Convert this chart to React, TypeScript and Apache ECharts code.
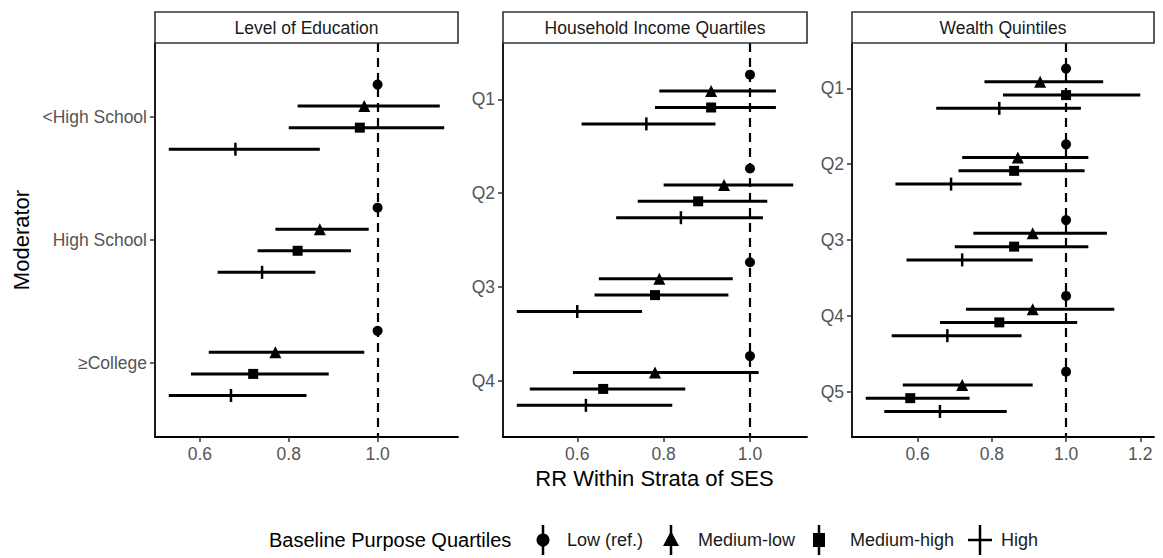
import React, { useEffect, useRef } from 'react';
import * as echarts from 'echarts';

// ---------- data ----------
const groups = ['Low (ref.)', 'Medium-low', 'Medium-high', 'High'];

const educationCats = ['<High School', 'High School', '≥College'];
const eduLow = [1.0, 1.0, 1.0];
const eduMedLow = [0.97, 0.87, 0.77];
const eduMedLowLo = [0.82, 0.77, 0.62];
const eduMedLowHi = [1.14, 0.98, 0.97];
const eduMedHigh = [0.96, 0.82, 0.72];
const eduMedHighLo = [0.80, 0.73, 0.58];
const eduMedHighHi = [1.15, 0.94, 0.89];
const eduHigh = [0.68, 0.74, 0.67];
const eduHighLo = [0.53, 0.64, 0.53];
const eduHighHi = [0.87, 0.86, 0.84];

const incomeCats = ['Q1', 'Q2', 'Q3', 'Q4'];
const incLow = [1.0, 1.0, 1.0, 1.0];
const incMedLow = [0.91, 0.94, 0.79, 0.78];
const incMedLowLo = [0.79, 0.80, 0.65, 0.59];
const incMedLowHi = [1.06, 1.10, 0.96, 1.02];
const incMedHigh = [0.91, 0.88, 0.78, 0.66];
const incMedHighLo = [0.78, 0.74, 0.64, 0.49];
const incMedHighHi = [1.06, 1.04, 0.95, 0.85];
const incHigh = [0.76, 0.84, 0.60, 0.62];
const incHighLo = [0.61, 0.69, 0.46, 0.46];
const incHighHi = [0.92, 1.03, 0.75, 0.82];

const wealthCats = ['Q1', 'Q2', 'Q3', 'Q4', 'Q5'];
const wltLow = [1.0, 1.0, 1.0, 1.0, 1.0];
const wltMedLow = [0.93, 0.87, 0.91, 0.91, 0.72];
const wltMedLowLo = [0.78, 0.72, 0.75, 0.73, 0.56];
const wltMedLowHi = [1.10, 1.06, 1.11, 1.13, 0.91];
const wltMedHigh = [1.00, 0.86, 0.86, 0.82, 0.58];
const wltMedHighLo = [0.83, 0.71, 0.70, 0.66, 0.46];
const wltMedHighHi = [1.20, 1.05, 1.06, 1.03, 0.74];
const wltHigh = [0.82, 0.69, 0.72, 0.68, 0.66];
const wltHighLo = [0.65, 0.54, 0.57, 0.53, 0.51];
const wltHighHi = [1.04, 0.88, 0.91, 0.88, 0.84];

const xTicks12 = [0.6, 0.8, 1.0];
const xTicks3 = [0.6, 0.8, 1.0, 1.2];
const refValue = 1.0;

// ---------- layout ----------
const FONT = '"Liberation Sans", Arial, sans-serif';
const SMALL = 17.5;
const BIG = 22;
const PLOT_TOP = 43;
const PLOT_BOTTOM = 437;
const STRIP_TOP = 12;
const panelBoxes = [
  { left: 155, right: 458 },
  { left: 503, right: 807 },
  { left: 852, right: 1154 },
];
const dodge = [-0.2625, -0.0875, 0.0875, 0.2625];
const symbols: any[] = [
  { symbol: 'circle', size: 10 },
  { symbol: 'triangle', size: 12 },
  { symbol: 'rect', size: 10 },
  { symbol: 'rect', size: [2.5, 13] },
];
// legend layout (icon centre x, label left x)
const LEGEND_Y = 540;
const legendIconX = [543, 671, 819, 980];
const legendTextX = [567, 698, 850, 1001];

const panels = [
  {
    title: 'Level of Education',
    cats: educationCats,
    est: [eduLow, eduMedLow, eduMedHigh, eduHigh],
    lo: [eduLow, eduMedLowLo, eduMedHighLo, eduHighLo],
    hi: [eduLow, eduMedLowHi, eduMedHighHi, eduHighHi],
    ticks: xTicks12,
  },
  {
    title: 'Household Income Quartiles',
    cats: incomeCats,
    est: [incLow, incMedLow, incMedHigh, incHigh],
    lo: [incLow, incMedLowLo, incMedHighLo, incHighLo],
    hi: [incLow, incMedLowHi, incMedHighHi, incHighHi],
    ticks: xTicks12,
  },
  {
    title: 'Wealth Quintiles',
    cats: wealthCats,
    est: [wltLow, wltMedLow, wltMedHigh, wltHigh],
    lo: [wltLow, wltMedLowLo, wltMedHighLo, wltHighLo],
    hi: [wltLow, wltMedLowHi, wltMedHighHi, wltHighHi],
    ticks: xTicks3,
  },
];

function xRange(lo: number[][], hi: number[][]) {
  const mn = Math.min(...lo.flat());
  const mx = Math.max(...hi.flat());
  const e = (mx - mn) * 0.05;
  return [mn - e, mx + e];
}

function textEl(text: string, x: number, y: number, size: number, align: string, fill: string, extra: any = {}) {
  return {
    type: 'text',
    x,
    y,
    ...extra,
    style: {
      text,
      align,
      verticalAlign: 'middle',
      textAlign: align,
      textVerticalAlign: 'middle',
      fontSize: size,
      fontFamily: FONT,
      fill,
    },
  };
}

function legendGraphics() {
  const els: any[] = [];
  els.push(textEl('Baseline Purpose Quartiles', 269, LEGEND_Y, 20, 'left', '#000'));
  const black = { fill: '#000' };
  groups.forEach((g, k) => {
    const cx = legendIconX[k];
    els.push({
      type: 'rect',
      shape: { x: cx - 1.25, y: LEGEND_Y - 15, width: 2.5, height: 30 },
      style: black,
    });
    if (k === 0) {
      els.push({ type: 'circle', shape: { cx, cy: LEGEND_Y, r: 6.5 }, style: black });
    } else if (k === 1) {
      els.push({
        type: 'polygon',
        shape: { points: [[cx, LEGEND_Y - 9], [cx + 8, LEGEND_Y + 6], [cx - 8, LEGEND_Y + 6]] },
        style: black,
      });
    } else if (k === 2) {
      els.push({ type: 'rect', shape: { x: cx - 6, y: LEGEND_Y - 7, width: 12, height: 14 }, style: black });
    } else {
      els.push({ type: 'rect', shape: { x: cx - 12, y: LEGEND_Y - 1.25, width: 24, height: 2.5 }, style: black });
    }
    els.push(textEl(g, legendTextX[k], LEGEND_Y, 18, 'left', '#1a1a1a'));
  });
  return els;
}

function buildOption() {
  const grid: any[] = [];
  const xAxis: any[] = [];
  const yAxis: any[] = [];
  const series: any[] = [];
  const graphic: any[] = [];

  panels.forEach((p, pi) => {
    const box = panelBoxes[pi];
    grid.push({
      left: box.left,
      top: PLOT_TOP,
      width: box.right - box.left,
      height: PLOT_BOTTOM - PLOT_TOP,
      containLabel: false,
    });
    const [xmin, xmax] = xRange(p.lo, p.hi);
    xAxis.push({
      type: 'value',
      gridIndex: pi,
      min: xmin,
      max: xmax,
      axisLine: { show: true, lineStyle: { color: '#000', width: 1.8 } },
      axisTick: { show: true, customValues: p.ticks, length: 5, lineStyle: { color: '#333', width: 1.5 } },
      axisLabel: {
        show: true,
        customValues: p.ticks,
        formatter: (v: number) => v.toFixed(1),
        color: '#555',
        fontSize: SMALL,
        fontFamily: FONT,
        margin: 8,
      },
      splitLine: { show: false },
    });
    const yTicks = p.cats.map((_, i) => i + 1);
    yAxis.push({
      type: 'value',
      gridIndex: pi,
      inverse: true,
      min: 0.4,
      max: p.cats.length + 0.6,
      axisLine: { show: true, lineStyle: { color: '#000', width: 1.8 } },
      axisTick: { show: true, customValues: yTicks, length: 5, lineStyle: { color: '#333', width: 1.5 } },
      axisLabel: {
        show: true,
        customValues: yTicks,
        formatter: (v: number) => p.cats[Math.round(v) - 1] ?? '',
        color: '#555',
        fontSize: SMALL,
        fontFamily: FONT,
        margin: 8,
      },
      splitLine: { show: false },
    });

    // error bars
    for (let k = 1; k < groups.length; k++) {
      series.push({
        type: 'custom',
        name: 'ci-' + pi + '-' + k,
        xAxisIndex: pi,
        yAxisIndex: pi,
        z: 2,
        silent: true,
        encode: { x: [0, 1], y: 2 },
        data: p.cats.map((_, i) => [p.lo[k][i], p.hi[k][i], i + 1 + dodge[k]]),
        renderItem: (params: any, api: any) => {
          const a = api.coord([api.value(0), api.value(2)]);
          const b = api.coord([api.value(1), api.value(2)]);
          return {
            type: 'line',
            shape: { x1: a[0], y1: a[1], x2: b[0], y2: b[1] },
            style: { stroke: '#000', lineWidth: 3 },
          };
        },
      });
    }
    // point estimates
    groups.forEach((g, k) => {
      const s: any = {
        type: 'scatter',
        name: g,
        xAxisIndex: pi,
        yAxisIndex: pi,
        z: 3,
        symbol: symbols[k].symbol,
        symbolSize: symbols[k].size,
        itemStyle: { color: '#000', opacity: 1 },
        emphasis: { disabled: true },
        data: p.cats.map((_, i) => [p.est[k][i], i + 1 + dodge[k]]),
      };
      if (k === 0) {
        s.markLine = {
          silent: true,
          symbol: ['none', 'none'],
          label: { show: false },
          lineStyle: { color: '#000', type: [9, 6], width: 2.2 },
          data: [{ xAxis: refValue }],
        };
      }
      series.push(s);
    });

    // strip
    graphic.push({
      type: 'rect',
      shape: { x: box.left, y: STRIP_TOP, width: box.right - box.left, height: PLOT_TOP - STRIP_TOP },
      style: { fill: '#fff', stroke: '#333', lineWidth: 1.6 },
      z: 10,
    });
    graphic.push(
      textEl(p.title, (box.left + box.right) / 2, (STRIP_TOP + PLOT_TOP) / 2, SMALL, 'center', '#1a1a1a', { z: 11 })
    );
  });

  // axis titles
  graphic.push(textEl('RR Within Strata of SES', (panelBoxes[0].left + panelBoxes[2].right) / 2, 478, BIG, 'center', '#000'));
  graphic.push(textEl('Moderator', 21, (PLOT_TOP + PLOT_BOTTOM) / 2, BIG, 'center', '#000', { rotation: Math.PI / 2 }));
  graphic.push(...legendGraphics());

  return {
    animation: false,
    backgroundColor: '#fff',
    textStyle: { fontFamily: FONT },
    grid,
    xAxis,
    yAxis,
    series,
    graphic,
  };
}

export default function App() {
  const ref = useRef<HTMLDivElement>(null);
  useEffect(() => {
    if (!ref.current) return;
    const chart = echarts.init(ref.current, null, { renderer: 'svg' });
    chart.setOption(buildOption() as any);
    return () => chart.dispose();
  }, []);
  return (
    <div
      ref={ref}
      style={{ position: 'absolute', left: 0, top: 0, width: 1163, height: 558, background: '#fff' }}
    />
  );
}
